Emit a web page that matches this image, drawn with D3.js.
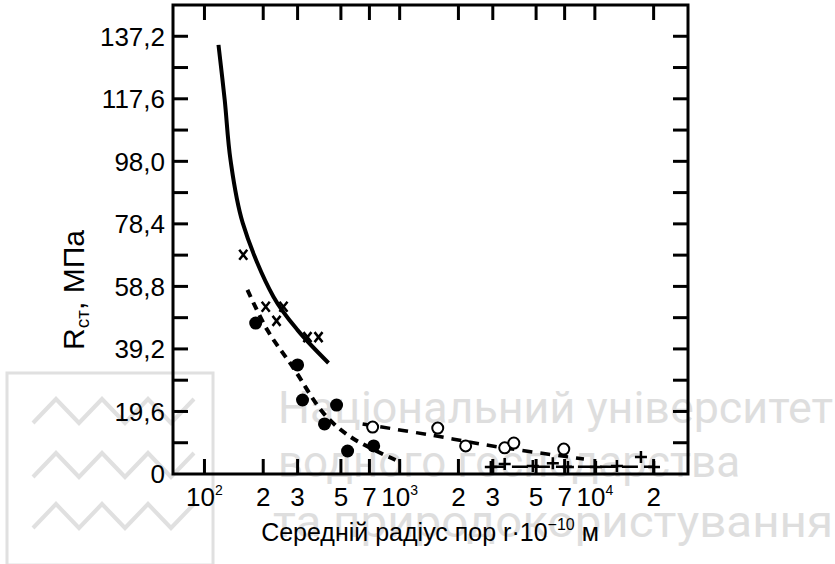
<!DOCTYPE html>
<html>
<head>
<meta charset="utf-8">
<script src="https://cdn.jsdelivr.net/npm/d3@7"></script>
<style>
  body { margin: 0; background: #fff; }
  svg { display: block; }
</style>
</head>
<body>
<svg id="chart" width="835" height="564"></svg>
<script>
// ticks
const xTicks = [100, 200, 300, 500, 700, 1000, 2000, 3000, 5000, 7000, 10000, 20000];
const xTickBase = ["10", "2", "3", "5", "7", "10", "2", "3", "5", "7", "10", "2"];
const xTickSup = ["2", "", "", "", "", "3", "", "", "", "", "4", ""];
const yTicks = [0, 19.6, 39.2, 58.8, 78.4, 98.0, 117.6, 137.2];
const yMinor = d3.range(1, 15).map(i => +(i * 9.8).toFixed(1));

// curve 1 (solid) and its crosses
const solidCurve = [[118, 134.5], [127, 117.2], [136, 98.4], [157, 78.7], [226, 55.5], [300, 45.1], [432, 34.8]];
const crosses = [[158, 68.7], [206, 52.4], [254, 52.4], [234, 48.0], [337, 42.9], [384, 42.9]];

// curve 2 (dashed) and filled dots
const dashedCurve = [[166, 57.7], [210, 45.1], [286, 33.2], [407, 19.1], [561, 11.6], [953, 4.4]];
const filledDots = [[183, 47.3], [300, 34.2], [318, 23.2], [475, 21.6], [412, 15.7], [541, 7.2], [736, 8.8]];

// curve 3 (dash) and open dots
const openCurve = [[646, 15.7], [1442, 12.2], [3185, 8.5], [8790, 4.7]];
const openDots = [[727, 14.7], [1567, 14.4], [2178, 8.8], [3452, 8.2], [3844, 9.7], [6930, 7.8]];

// curve 4 (flat) and pluses
const plusCurve = [[2900, 2.3], [20000, 2.3]];
const plusDots = [[2931, 2.2], [3452, 3.1], [4808, 2.5], [6091, 3.4], [7278, 2.2], [10120, 2.2], [12970, 2.5], [17220, 5.3], [20090, 2.2]];

const svg = d3.select("#chart");
const x = d3.scaleLog().domain([69, 30000]).range([173, 688]);
const y = d3.scaleLinear().domain([0, 147]).range([474, 5]);
const fontAxis = "'Liberation Sans', Arial, sans-serif";

// faint watermark behind the chart
const wm = svg.append("g").attr("class", "watermark");
wm.append("rect")
    .attr("x", 7).attr("y", 373).attr("width", 206).attr("height", 192)
    .attr("fill", "none").attr("stroke", "#e0e0e0").attr("stroke-width", 3);
[423, 477, 528].forEach(function(base) {
  const pts = d3.range(0, 8).map(i => [33 + i * 23, i % 2 === 0 ? base : base - 24]);
  wm.append("path")
      .attr("d", d3.line()(pts))
      .attr("fill", "none").attr("stroke", "#e0e0e0").attr("stroke-width", 4);
});
const wmLines = [
  {text: "Національний університет", x: 278, y: 423, w: 555},
  {text: "водного господарства", x: 278, y: 477, w: 462},
  {text: "та природокористування", x: 273, y: 537, w: 560}
];
wm.selectAll("text.wm")
    .data(wmLines)
    .enter().append("text")
    .attr("class", "wm")
    .attr("x", d => d.x).attr("y", d => d.y)
    .attr("textLength", d => d.w)
    .attr("lengthAdjust", "spacingAndGlyphs")
    .attr("font-family", "Roboto, 'Noto Sans', sans-serif")
    .attr("font-size", 45)
    .attr("fill", "#dedede")
    .text(d => d.text);

// frame
svg.append("rect")
    .attr("x", x.range()[0]).attr("y", y.range()[1])
    .attr("width", x.range()[1] - x.range()[0])
    .attr("height", y.range()[0] - y.range()[1])
    .attr("fill", "none").attr("stroke", "#000").attr("stroke-width", 3);

// x ticks, bottom and top, pointing inward
const tickLen = 15;
const ticks = svg.append("g").attr("stroke", "#000").attr("stroke-width", 3);
xTicks.forEach(function(t) {
  ticks.append("line").attr("x1", x(t)).attr("x2", x(t)).attr("y1", y(0)).attr("y2", y(0) - tickLen);
  ticks.append("line").attr("x1", x(t)).attr("x2", x(t)).attr("y1", y(147)).attr("y2", y(147) + tickLen);
});
yMinor.forEach(function(t) {
  ticks.append("line").attr("x1", x(69)).attr("x2", x(69) + tickLen).attr("y1", y(t)).attr("y2", y(t));
  ticks.append("line").attr("x1", x(30000)).attr("x2", x(30000) - tickLen).attr("y1", y(t)).attr("y2", y(t));
});

// y labels
svg.append("g")
    .selectAll("text")
    .data(yTicks)
    .enter().append("text")
    .attr("x", 165)
    .attr("y", d => y(d))
    .attr("dy", "0.36em")
    .attr("text-anchor", "end")
    .attr("font-family", fontAxis)
    .attr("font-size", 26)
    .text(d => d === 0 ? "0" : d.toFixed(1).replace(".", ","));

// x labels
const xl = svg.append("g")
    .selectAll("text")
    .data(xTicks)
    .enter().append("text")
    .attr("x", d => x(d))
    .attr("y", 506)
    .attr("text-anchor", "middle")
    .attr("font-family", fontAxis)
    .attr("font-size", 26);
xl.append("tspan").text((d, i) => xTickBase[i]);
xl.append("tspan")
    .attr("font-size", 14)
    .attr("dy", -11)
    .text((d, i) => xTickSup[i]);

// axis titles
const xt = svg.append("text")
    .attr("x", 430).attr("y", 541)
    .attr("text-anchor", "middle")
    .attr("font-family", fontAxis)
    .attr("font-size", 25);
xt.append("tspan").text("Середній радіус пор r·10");
xt.append("tspan").attr("font-size", 16).attr("dy", -11).text("−10");
xt.append("tspan").attr("dy", 11).text(" м");

const yt = svg.append("text")
    .attr("transform", "translate(84,290) rotate(-90)")
    .attr("text-anchor", "middle")
    .attr("font-family", fontAxis)
    .attr("font-size", 30);
yt.append("tspan").text("R");
yt.append("tspan").attr("font-size", 19).attr("dy", 5).text("ст");
yt.append("tspan").attr("dy", -5).text(", МПа");

// curves
const line = d3.line()
    .x(d => x(d[0]))
    .y(d => y(d[1]))
    .curve(d3.curveCatmullRom);

svg.append("path").datum(solidCurve)
    .attr("d", line).attr("fill", "none")
    .attr("stroke", "#000").attr("stroke-width", 4);
svg.append("path").datum(dashedCurve)
    .attr("d", line).attr("fill", "none")
    .attr("stroke", "#000").attr("stroke-width", 4)
    .attr("stroke-dasharray", "8,6");
svg.append("path").datum(openCurve)
    .attr("d", line).attr("fill", "none")
    .attr("stroke", "#000").attr("stroke-width", 3.5)
    .attr("stroke-dasharray", "10,8");
svg.append("path").datum(plusCurve)
    .attr("d", line).attr("fill", "none")
    .attr("stroke", "#000").attr("stroke-width", 2.5)
    .attr("stroke-dasharray", "16,6");

// markers
svg.append("g").selectAll("path")
    .data(crosses)
    .enter().append("path")
    .attr("transform", d => "translate(" + x(d[0]) + "," + y(d[1]) + ")")
    .attr("d", "M-4,-5L4,5M4,-5L-4,5")
    .attr("stroke", "#000").attr("stroke-width", 2.5);

svg.append("g").selectAll("circle")
    .data(filledDots)
    .enter().append("circle")
    .attr("cx", d => x(d[0])).attr("cy", d => y(d[1]))
    .attr("r", 6.5).attr("fill", "#000");

svg.append("g").selectAll("circle")
    .data(openDots)
    .enter().append("circle")
    .attr("cx", d => x(d[0])).attr("cy", d => y(d[1]))
    .attr("r", 5.5).attr("fill", "#fff")
    .attr("stroke", "#000").attr("stroke-width", 2);

svg.append("g").selectAll("path")
    .data(plusDots)
    .enter().append("path")
    .attr("transform", d => "translate(" + x(d[0]) + "," + y(d[1]) + ")")
    .attr("d", "M-6,0L6,0M0,-6L0,6")
    .attr("stroke", "#000").attr("stroke-width", 2.5);
</script>
</body>
</html>
